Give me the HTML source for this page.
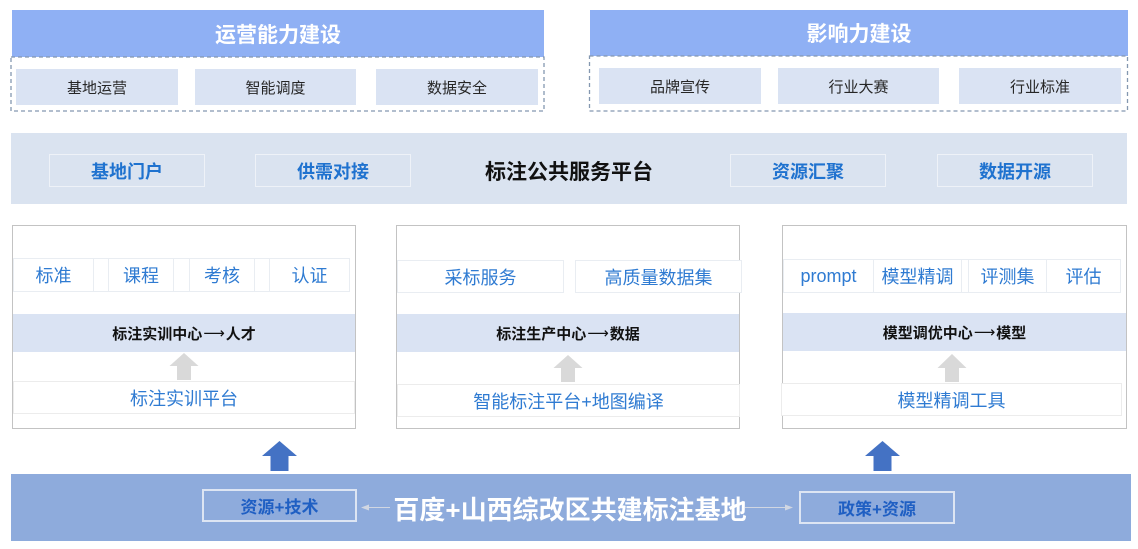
<!DOCTYPE html>
<html><head><meta charset="utf-8">
<style>
*{margin:0;padding:0;box-sizing:border-box}
body{width:1138px;height:549px;background:#fff;position:relative;overflow:hidden;font-family:"Liberation Sans","Noto Sans CJK SC",sans-serif}
.a{position:absolute;display:flex;align-items:center;justify-content:center;white-space:nowrap}
.hdr{background:#8fb0f4;color:#fff;font-weight:bold;font-size:21px}
.ib{background:#dae3f3;color:#262626;font-size:15px}
.mb{border:1.5px solid #eef2f8;color:#1f72cf;font-weight:bold;font-size:18px}
.pan{position:absolute;border:1.5px solid #c3c3c3;background:#fff}
.cell{border:1.5px solid #e9edf2;color:#2f7bd2;font-size:18px;background:#fff}
.band{background:#dae3f3;color:#111;font-weight:bold;font-size:15px;font-family:"Noto Sans CJK SC","Liberation Sans",sans-serif}
.band .ar{font-family:"DejaVu Sans",sans-serif;font-weight:normal;font-size:15px;margin:0 1px}
.plat{border:1.5px solid #ececec;color:#2f7bd2;font-size:18px;background:#fff}
.bb{border:2px solid #dde5f3;color:#1f5fc3;font-weight:bold;font-size:17px}
</style></head><body>

<div class="a hdr" style="left:12px;top:10px;width:532px;height:47px">运营能力建设</div>
<div class="a hdr" style="left:590px;top:10px;width:538px;height:46px">影响力建设</div>
<svg style="position:absolute;left:0;top:0" width="1138" height="549">
  <rect x="11" y="57" width="533" height="54" fill="none" stroke="#8497b0" stroke-width="1.3" stroke-dasharray="4,3"/>
  <rect x="589.5" y="56" width="538" height="55" fill="none" stroke="#8497b0" stroke-width="1.3" stroke-dasharray="4,3"/>
</svg>
<div class="a ib" style="left:16px;top:69px;width:162px;height:36px">基地运营</div>
<div class="a ib" style="left:195px;top:69px;width:161px;height:36px">智能调度</div>
<div class="a ib" style="left:376px;top:69px;width:162px;height:36px">数据安全</div>
<div class="a ib" style="left:599px;top:68px;width:162px;height:36px">品牌宣传</div>
<div class="a ib" style="left:778px;top:68px;width:161px;height:36px">行业大赛</div>
<div class="a ib" style="left:959px;top:68px;width:162px;height:36px">行业标准</div>

<div style="position:absolute;left:11px;top:133px;width:1116px;height:71px;background:#dae3f0"></div>
<div class="a mb" style="left:49px;top:154px;width:156px;height:33px">基地门户</div>
<div class="a mb" style="left:255px;top:154px;width:156px;height:33px">供需对接</div>
<div class="a" style="left:460px;top:154px;width:218px;height:33px;font-weight:bold;font-size:21px;color:#111">标注公共服务平台</div>
<div class="a mb" style="left:730px;top:154px;width:156px;height:33px">资源汇聚</div>
<div class="a mb" style="left:937px;top:154px;width:156px;height:33px">数据开源</div>

<div class="pan" style="left:12px;top:225px;width:344px;height:204px"></div>
<div class="pan" style="left:396px;top:225px;width:344px;height:204px"></div>
<div class="pan" style="left:782px;top:225px;width:345px;height:204px"></div>

<div class="a cell" style="left:13px;top:258px;width:81px;height:34px">标准</div>
<div class="a cell" style="left:93px;top:258px;width:16px;height:34px"></div>
<div class="a cell" style="left:108px;top:258px;width:66px;height:34px">课程</div>
<div class="a cell" style="left:173px;top:258px;width:17px;height:34px"></div>
<div class="a cell" style="left:189px;top:258px;width:66px;height:34px">考核</div>
<div class="a cell" style="left:254px;top:258px;width:16px;height:34px"></div>
<div class="a cell" style="left:269px;top:258px;width:81px;height:34px">认证</div>

<div class="a cell" style="left:397px;top:260px;width:167px;height:33px">采标服务</div>
<div class="a cell" style="left:575px;top:260px;width:167px;height:33px">高质量数据集</div>

<div class="a cell" style="left:783px;top:259px;width:91px;height:34px">prompt</div>
<div class="a cell" style="left:873px;top:259px;width:89px;height:34px">模型精调</div>
<div class="a cell" style="left:961px;top:259px;width:8px;height:34px"></div>
<div class="a cell" style="left:968px;top:259px;width:79px;height:34px">评测集</div>
<div class="a cell" style="left:1046px;top:259px;width:75px;height:34px">评估</div>

<div class="a band" style="left:13px;top:314px;width:342px;height:38px">标注实训中心<span class="ar">⟶</span>人才</div>
<div class="a band" style="left:397px;top:314px;width:342px;height:38px">标注生产中心<span class="ar">⟶</span>数据</div>
<div class="a band" style="left:783px;top:313px;width:343px;height:38px">模型调优中心<span class="ar">⟶</span>模型</div>

<div class="a plat" style="left:13px;top:381px;width:342px;height:33px">标注实训平台</div>
<div class="a plat" style="left:397px;top:384px;width:343px;height:33px">智能标注平台+地图编译</div>
<div class="a plat" style="left:781px;top:383px;width:341px;height:33px">模型精调工具</div>

<div style="position:absolute;left:11px;top:474px;width:1120px;height:67px;background:#8eabdc"></div>
<div class="a bb" style="left:202px;top:489px;width:155px;height:33px">资源+技术</div>
<div class="a bb" style="left:799px;top:491px;width:156px;height:33px">政策+资源</div>
<div class="a" style="left:380px;top:490px;width:380px;height:36px;color:#fff;font-weight:bold;font-size:26px">百度+山西综改区共建标注基地</div>

<svg style="position:absolute;left:0;top:0" width="1138" height="549">
  <polygon points="184,353 198.5,366 191,366 191,380 177,380 177,366 169.5,366" fill="#d9d9d9"/>
  <polygon points="568,355 582.5,368 575,368 575,382 561,382 561,368 553.5,368" fill="#d9d9d9"/>
  <polygon points="952,354 966.5,368 959,368 959,382 945,382 945,368 937.5,368" fill="#d9d9d9"/>
  <polygon points="279.5,441 297,456 288.5,456 288.5,471 270.5,471 270.5,456 262,456" fill="#4472c4"/>
  <polygon points="882.5,441 900,456 891.5,456 891.5,471 873.5,471 873.5,456 865,456" fill="#4472c4"/>
  <line x1="366" y1="507.5" x2="390" y2="507.5" stroke="#d0d6e2" stroke-width="1"/>
  <polygon points="361,507.5 369,504.5 369,510.5" fill="#d0d6e2"/>
  <line x1="745" y1="507.5" x2="788" y2="507.5" stroke="#d0d6e2" stroke-width="1"/>
  <polygon points="793,507.5 785,504.5 785,510.5" fill="#d0d6e2"/>
</svg>
</body></html>
